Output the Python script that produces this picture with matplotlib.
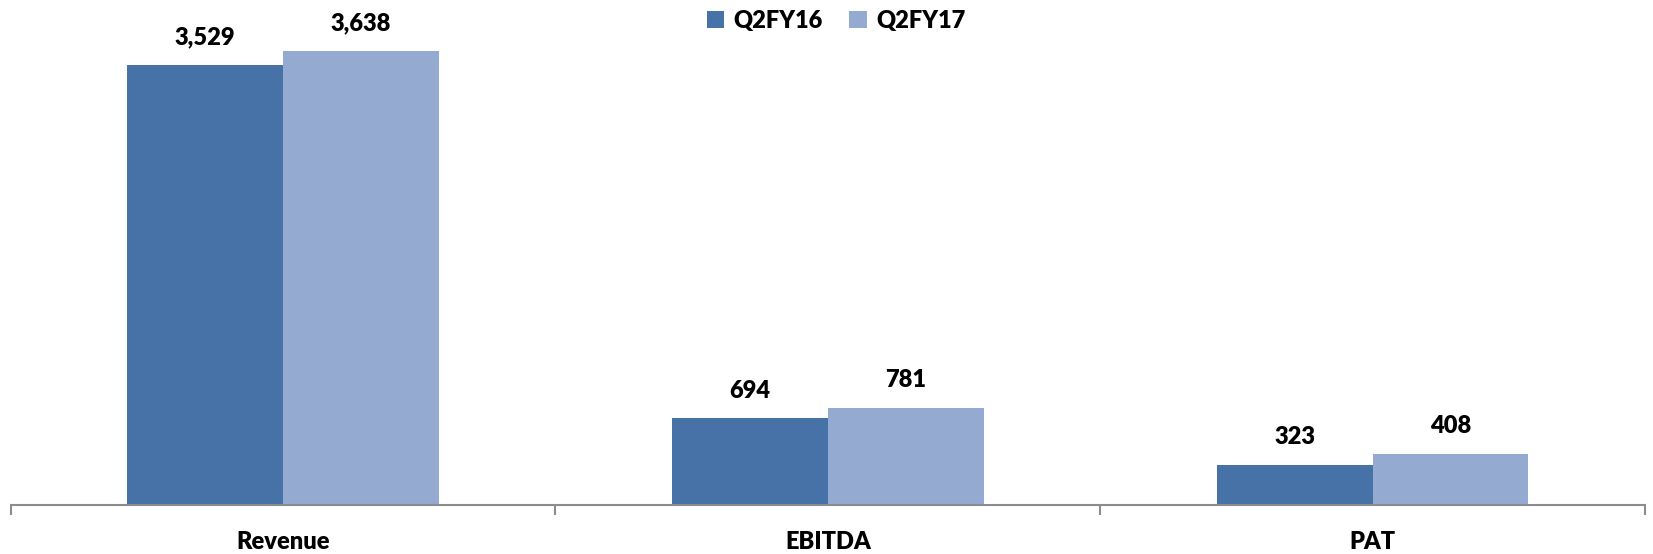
import numpy as np
import matplotlib.pyplot as plt
import matplotlib

matplotlib.rcParams['font.family'] = ['Lato', 'DejaVu Sans']

categories = ['Revenue', 'EBITDA', 'PAT']
series_names = ['Q2FY16', 'Q2FY17']
q2fy16 = [3529, 694, 323]
q2fy17 = [3638, 781, 408]
colors = ['#4672A7', '#95AAD1']

fig = plt.figure(figsize=(16.53, 5.54), dpi=100, facecolor='white')
ax = fig.add_axes([0.0064, 0.0884, 0.9888, 0.9006])

x = np.arange(len(categories))
w = 0.286
bars1 = ax.bar(x - w / 2, q2fy16, w, color=colors[0], label=series_names[0])
bars2 = ax.bar(x + w / 2, q2fy17, w, color=colors[1], label=series_names[1])

for bars in (bars1, bars2):
    for b in bars:
        ax.annotate(f'{int(b.get_height()):,}',
                    (b.get_x() + b.get_width() / 2, b.get_height()),
                    xytext=(0, 12), textcoords='offset points',
                    ha='center', va='bottom', fontsize=17, fontweight='heavy')

ax.set_xlim(-0.5, len(categories) - 0.5)
ax.set_ylim(0, 4000)
ax.set_yticks([])
for s in ['top', 'right', 'left']:
    ax.spines[s].set_visible(False)
ax.spines['bottom'].set_color('#8c8c8c')
ax.spines['bottom'].set_linewidth(1.5)

ax.set_xticks(np.arange(len(categories) + 1) - 0.5, minor=False)
ax.set_xticklabels([])
ax.tick_params(axis='x', which='major', length=7, width=1.5, color='#8c8c8c', direction='out')
ax.set_xticks(x, minor=True)
ax.set_xticklabels(categories, minor=True, fontsize=17, fontweight='heavy')
ax.tick_params(axis='x', which='minor', length=0, pad=19)

leg = ax.legend(loc='upper center', bbox_to_anchor=(0.505, 1.035), ncol=2, frameon=False,
                prop={'size': 17, 'weight': 'heavy'}, handlelength=0.75, handleheight=0.75,
                handletextpad=0.4, columnspacing=1.1)

plt.savefig('out.png', dpi=100)
